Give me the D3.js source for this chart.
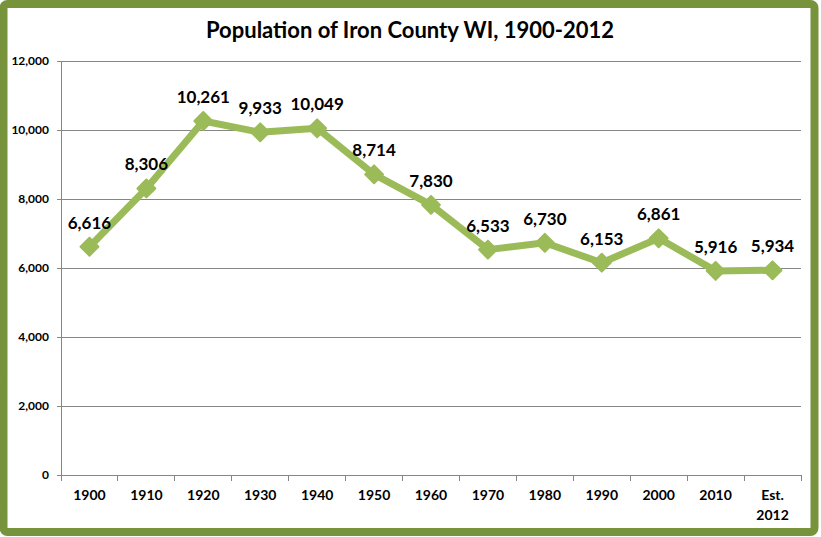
<!DOCTYPE html>
<html><head><meta charset="utf-8">
<script src="https://cdn.jsdelivr.net/npm/d3@7"></script>
<style>body{margin:0;background:#fff;overflow:hidden}svg{display:block}</style>
</head><body><svg id="c" width="821" height="537"></svg>
<script>
const categories = ["1900","1910","1920","1930","1940","1950","1960","1970","1980","1990","2000","2010","Est. 2012"];
const population = [6616,8306,10261,9933,10049,8714,7830,6533,6730,6153,6861,5916,5934];
const yTicks = [0,2000,4000,6000,8000,10000,12000];
const title = "Population of Iron County WI, 1900-2012";

const svg = d3.select("#c");
const font = "Lato, 'Open Sans', sans-serif";
// frame
svg.append("rect").attr("x",0).attr("y",0).attr("width",821).attr("height",537).attr("fill","#ffffff");
svg.append("rect").attr("x",3.5).attr("y",4).attr("width",811).attr("height",528).attr("rx",4)
  .attr("fill","#fff").attr("stroke","#77933C").attr("stroke-width",8);

const x = d3.scaleBand().domain(categories).range([61,801]);
const y = d3.scaleLinear().domain([0,12000]).range([475,61]);

// gridlines
svg.append("g").selectAll("line").data(yTicks.filter(d=>d>0)).join("line")
  .attr("x1",61).attr("x2",801).attr("y1",d=>y(d)).attr("y2",d=>y(d))
  .attr("stroke","#868686").attr("stroke-width",1).attr("shape-rendering","crispEdges");

const yAxis = svg.append("g").attr("transform","translate(61,0)")
  .call(d3.axisLeft(y).tickValues(yTicks).tickSize(4).tickPadding(8).tickFormat(d3.format(",")));
yAxis.select(".domain").attr("stroke","#868686");
yAxis.selectAll(".tick line").attr("stroke","#868686");
yAxis.selectAll("text").attr("font-family",font).attr("font-weight","bold").attr("font-size",12).attr("fill","#000");

const xAxis = svg.append("g").attr("transform","translate(0,475)")
  .call(d3.axisBottom(x).tickSize(0).tickFormat(""));
xAxis.select(".domain").attr("stroke","#868686");
xAxis.selectAll(".tick").remove();
const edges = categories.map(c=>x(c)).concat([801]);
svg.append("g").selectAll("line").data(edges).join("line")
  .attr("x1",d=>d).attr("x2",d=>d).attr("y1",475).attr("y2",481)
  .attr("stroke","#868686").attr("shape-rendering","crispEdges");
const xl = svg.append("g").selectAll("text").data(categories).join("text")
  .attr("x",d=>x(d)+x.bandwidth()/2).attr("y",500)
  .attr("text-anchor","middle").attr("font-family",font).attr("font-weight","bold").attr("font-size",14).attr("fill","#000");
xl.each(function(d){
  const parts = d.split(" ");
  const t = d3.select(this);
  parts.forEach((p,i)=>t.append("tspan").attr("x",x(d)+x.bandwidth()/2).attr("dy",i?20:0).text(p));
});

// line
const cx = d=>x(d)+x.bandwidth()/2;
const line = d3.line().x((d,i)=>cx(categories[i])).y(d=>y(d));
svg.append("path").datum(population).attr("d",line).attr("fill","none")
  .attr("stroke","#9BBB59").attr("stroke-width",7).attr("stroke-linejoin","round");
svg.append("g").selectAll("path").data(population).join("path")
  .attr("d",d3.symbol(d3.symbolSquare,160)())
  .attr("transform",(d,i)=>`translate(${cx(categories[i])},${y(d)}) rotate(45)`)
  .attr("fill","#9BBB59").attr("stroke","#9BBB59").attr("stroke-width",2).attr("stroke-linejoin","round");

svg.append("g").selectAll("text").data(population).join("text")
  .attr("x",(d,i)=>cx(categories[i])).attr("y",d=>y(d)-18)
  .attr("text-anchor","middle").attr("font-family",font).attr("font-weight","bold").attr("font-size",17).attr("fill","#000")
  .text(d=>d3.format(",")(d));

svg.append("text").attr("x",410).attr("y",38).attr("text-anchor","middle")
  .attr("font-family",font).attr("font-weight","bold").attr("font-size",22).attr("fill","#000").text(title);
</script></body></html>
